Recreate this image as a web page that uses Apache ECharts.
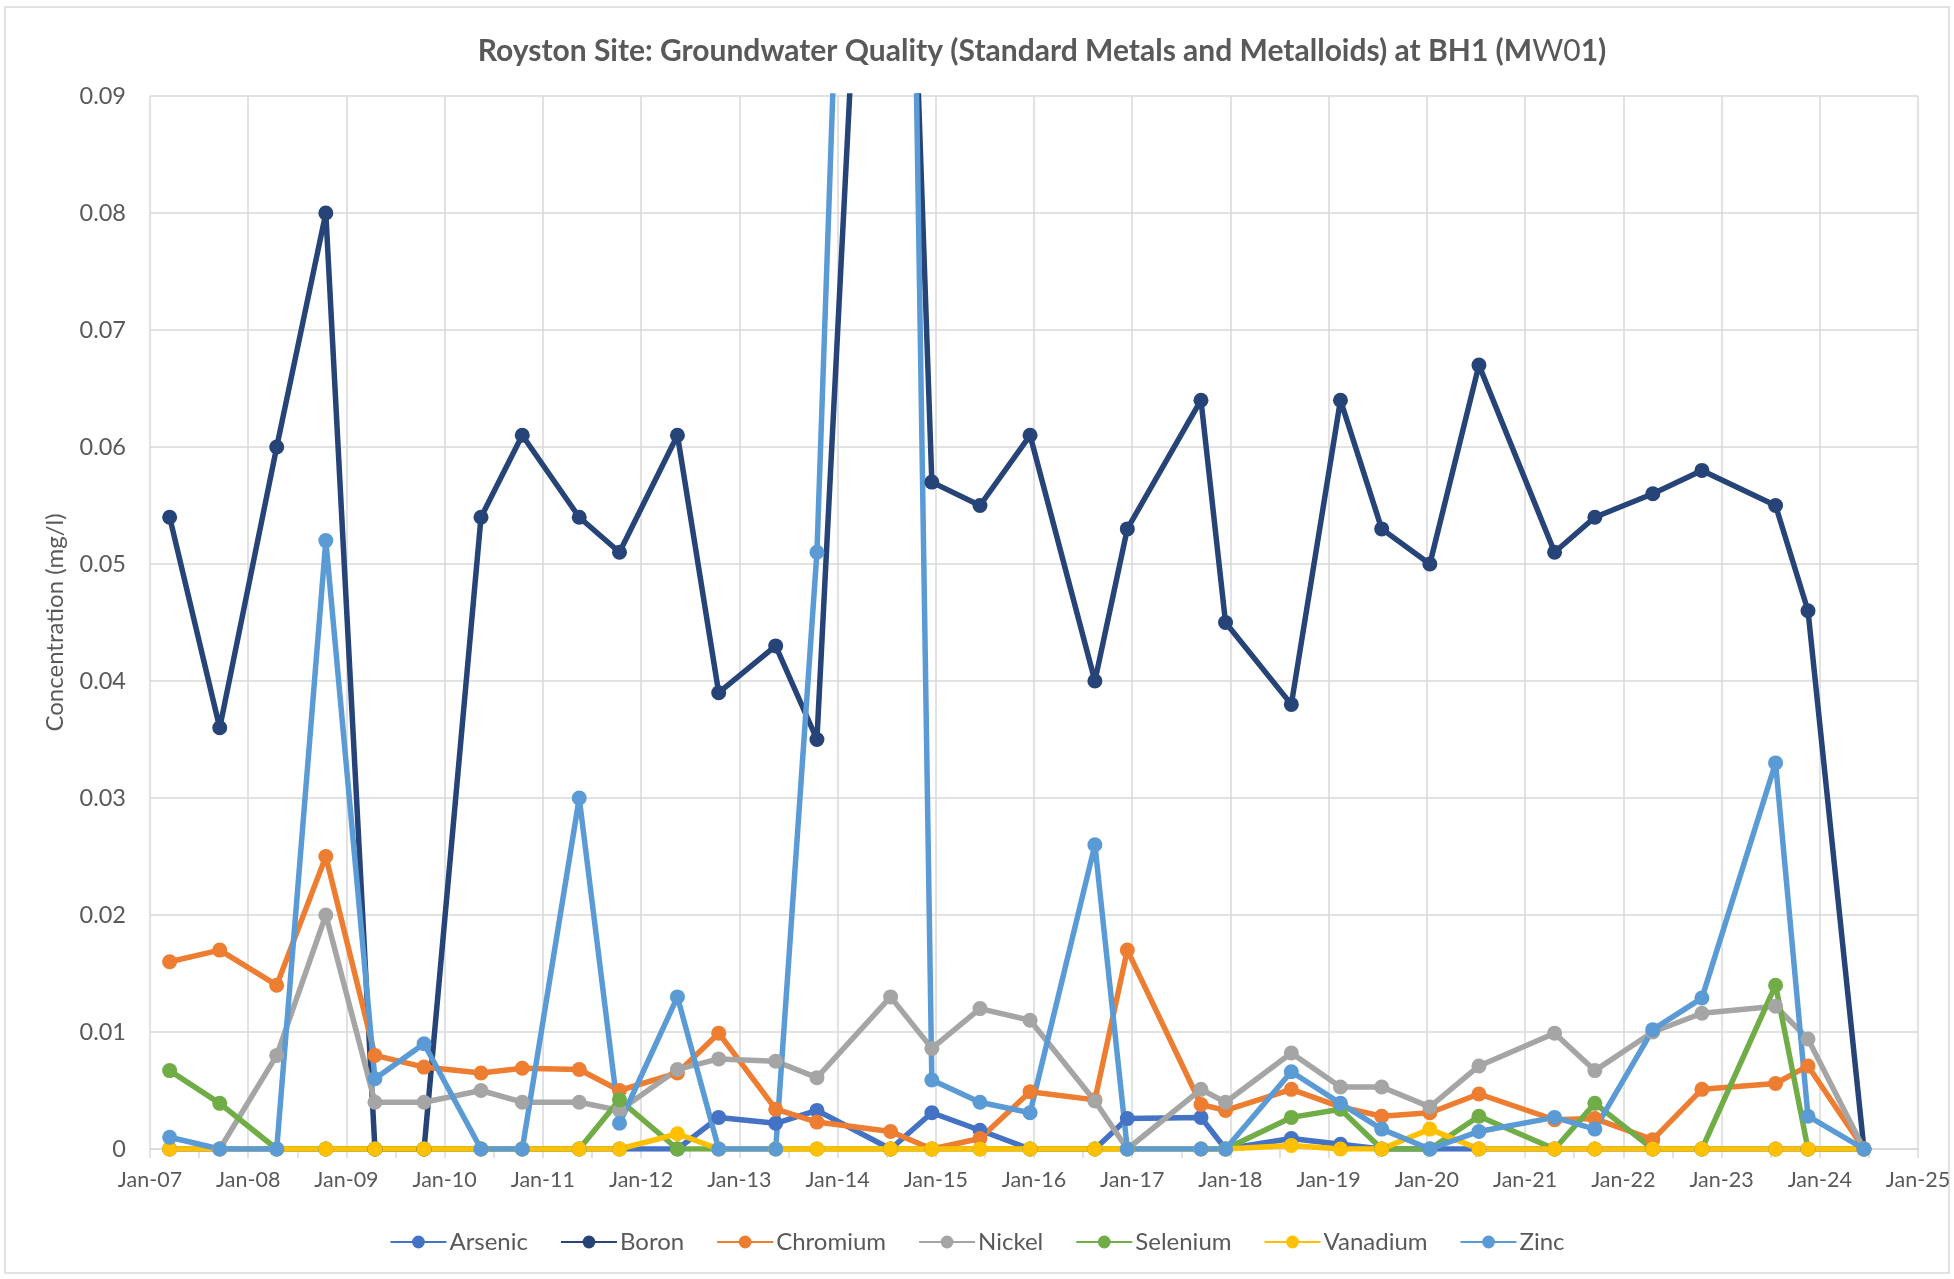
<!DOCTYPE html>
<html>
<head>
<meta charset="utf-8">
<title>Royston Site BH1 (MW01)</title>
<script src="https://cdn.jsdelivr.net/npm/echarts@6/dist/echarts.min.js"></script>
<style>
html, body { margin: 0; padding: 0; background: #fff; }
#chart { width: 1954px; height: 1279px; }
</style>
</head>
<body>
<div id="chart"></div>
<script>
// sampling dates, as decimal years
const sampleYear = [
  2007.20, 2007.71, 2008.29, 2008.79, 2009.29, 2009.79, 2010.37, 2010.79,
  2011.37, 2011.78, 2012.37, 2012.79, 2013.37, 2013.79, 2014.54, 2014.96,
  2015.45, 2015.96, 2016.62, 2016.95, 2017.70, 2017.95, 2018.62, 2019.12,
  2019.54, 2020.03, 2020.53, 2021.30, 2021.71, 2022.30, 2022.80, 2023.55,
  2023.88, 2024.45
]

// concentrations in mg/l
const arsenic = [
  0, 0, 0, 0, 0, 0, 0, 0, 0, 0, 0, 0.0027, 0.0022, 0.0033, 0, 0.0031,
  0.0016, 0, 0, 0.0026, 0.0027, 0, 0.0009, 0.0004, 0, 0, 0, 0, 0, 0, 0, 0,
  0, 0
]
const boron = [
  0.054, 0.036, 0.060, 0.080, 0, 0, 0.054, 0.061, 0.054, 0.051, 0.061, 0.039,
  0.043, 0.035, 0.159, 0.057, 0.055, 0.061, 0.040, 0.053, 0.064, 0.045, 0.038,
  0.064, 0.053, 0.050, 0.067, 0.051, 0.054, 0.056, 0.058, 0.055, 0.046, 0
]
const chromium = [
  0.016, 0.017, 0.014, 0.025, 0.008, 0.007, 0.0065, 0.0069, 0.0068, 0.005,
  0.0065, 0.0099, 0.0034, 0.0023, 0.0015, 0, 0.0009, 0.0049, 0.0042, 0.017,
  0.0038, 0.0033, 0.0051, 0.0036, 0.0028, 0.0031, 0.0047, 0.0025, 0.0026,
  0.0008, 0.0051, 0.0056, 0.0071, 0
]
const nickel = [
  0, 0, 0.008, 0.020, 0.004, 0.004, 0.005, 0.004, 0.004, 0.0033, 0.0068,
  0.0077, 0.0075, 0.0061, 0.013, 0.0086, 0.012, 0.011, 0.0041, 0, 0.0051,
  0.004, 0.0082, 0.0053, 0.0053, 0.0036, 0.0071, 0.0099, 0.0067, 0.010,
  0.0116, 0.0122, 0.0094, 0
]
const selenium = [
  0.0067, 0.0039, 0, 0, 0, 0, 0, 0, 0, 0.0042, 0, 0, 0, 0, 0, 0, 0, 0, 0, 0,
  0, 0, 0.0027, 0.0034, 0, 0, 0.0028, 0, 0.0039, 0, 0, 0.014, 0, 0
]
const vanadium = [
  0, 0, 0, 0, 0, 0, 0, 0, 0, 0, 0.0013, 0, 0, 0, 0, 0, 0, 0, 0, 0, 0, 0,
  0.0003, 0, 0, 0.0017, 0, 0, 0, 0, 0, 0, 0, 0
]
const zinc = [
  0.001, 0, 0, 0.052, 0.006, 0.009, 0, 0, 0.030, 0.0022, 0.013, 0, 0, 0.051,
  0.233, 0.0059, 0.004, 0.0031, 0.026, 0, 0, 0, 0.0066, 0.0039, 0.0017, 0,
  0.0015, 0.0027, 0.0017, 0.0102, 0.0129, 0.033, 0.0028, 0
]

const xTickLabels = [
  'Jan-07', 'Jan-08', 'Jan-09', 'Jan-10', 'Jan-11', 'Jan-12', 'Jan-13',
  'Jan-14', 'Jan-15', 'Jan-16', 'Jan-17', 'Jan-18', 'Jan-19', 'Jan-20',
  'Jan-21', 'Jan-22', 'Jan-23', 'Jan-24', 'Jan-25'
]
const yTickLabels = ['0', '0.01', '0.02', '0.03', '0.04', '0.05', '0.06', '0.07', '0.08', '0.09']

const seriesNames = ['Arsenic', 'Boron', 'Chromium', 'Nickel', 'Selenium', 'Vanadium', 'Zinc']
const seriesValues = [arsenic, boron, chromium, nickel, selenium, vanadium, zinc]
const colors = ['#4472C4', '#264478', '#ED7D31', '#A5A5A5', '#70AD47', '#FFC000', '#5B9BD5']

const textColor = '#595959'
const gridColor = '#D9D9D9'
const font = 'Lato, "Open Sans", sans-serif'

const myChart = echarts.init(document.getElementById('chart'))
myChart.setOption({
  animation: false,
  color: colors,
  title: {
    text: 'Royston Site: Groundwater Quality (Standard Metals and Metalloids) at BH1 (M{l|W0}1)',
    left: 1037,
    top: 31,
    textAlign: 'center',
    textStyle: {
      color: textColor,
      fontFamily: font,
      fontSize: 30,
      fontWeight: 'bold',
      rich: {
        l: { color: textColor, fontFamily: font, fontSize: 30, fontWeight: 'normal' }
      }
    }
  },
  legend: {
    bottom: 20,
    left: 'center',
    itemWidth: 56,
    itemHeight: 16,
    itemGap: 32,
    textStyle: { color: textColor, fontFamily: font, fontSize: 24, padding: [0, 0, 0, -2] },
    data: seriesNames
  },
  grid: {
    left: 150,
    right: 36,
    top: 96,
    bottom: 130,
    outerBoundsMode: 'none'
  },
  xAxis: {
    type: 'value',
    min: 2007,
    max: 2025,
    interval: 1,
    axisLine: { show: true, lineStyle: { color: gridColor, width: 1.5 } },
    axisTick: { show: true, length: 9, lineStyle: { color: gridColor, width: 1.5 } },
    minorTick: { show: true, splitNumber: 2, length: 9, lineStyle: { color: gridColor, width: 1.5 } },
    splitLine: { show: true, lineStyle: { color: gridColor, width: 1.5 } },
    axisLabel: {
      color: textColor,
      fontFamily: font,
      fontSize: 21.5,
      margin: 20,
      formatter: (v) => xTickLabels[Math.round(v - 2007)]
    }
  },
  yAxis: {
    type: 'value',
    min: 0,
    max: 0.09,
    interval: 0.01,
    name: 'Concentration (mg/l)',
    nameLocation: 'middle',
    nameGap: 83,
    nameTextStyle: { color: textColor, fontFamily: font, fontSize: 24 },
    axisLine: { show: false },
    axisTick: { show: false },
    splitLine: { show: true, lineStyle: { color: gridColor, width: 1.5 } },
    axisLabel: {
      color: textColor,
      fontFamily: font,
      fontSize: 23.5,
      margin: 24,
      formatter: (v) => yTickLabels[Math.round(v * 100)]
    }
  },
  series: seriesNames.map((name, i) => ({
    name: name,
    type: 'line',
    data: sampleYear.map((yr, j) => [yr, seriesValues[i][j]]),
    symbol: 'circle',
    symbolSize: 15,
    showSymbol: true,
    clip: true,
    lineStyle: { width: 5.5, color: colors[i] },
    itemStyle: { color: colors[i] },
    emphasis: { disabled: true }
  })),
  graphic: [{
    type: 'rect',
    shape: { x: 5, y: 7, width: 1944, height: 1266 },
    style: { fill: null, stroke: gridColor, lineWidth: 1.5 },
    silent: true
  }]
})

window.addEventListener('resize', function() {
  myChart.resize()
})
</script>
</body>
</html>
